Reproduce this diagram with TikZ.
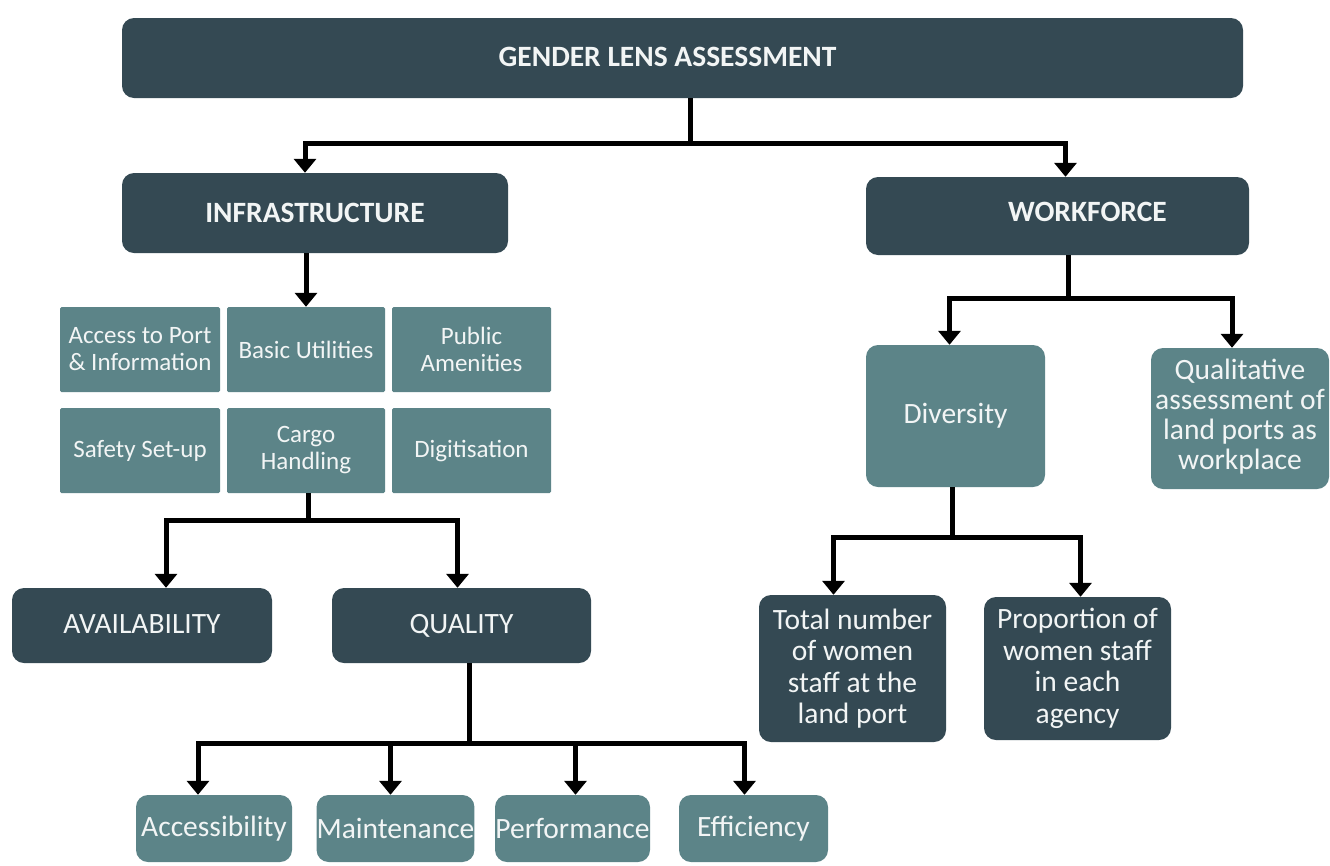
\documentclass[tikz,border=0pt]{standalone}
\usepackage{fontspec}
\setmainfont{Carlito}
\usetikzlibrary{arrows.meta}
\definecolor{darkbox}{HTML}{344953}
\definecolor{lightbox}{HTML}{5C8488}
\definecolor{boxtext}{HTML}{F2F5F5}
\tikzset{
  box/.style={rectangle, inner sep=0pt, text=boxtext, align=center},
  dbox/.style={box, fill=darkbox, rounded corners=12pt},
  lbox/.style={box, fill=lightbox, rounded corners=12pt},
  gbox/.style={box, fill=lightbox, rounded corners=1.5pt, minimum height=85pt,
     font=\fontsize{25}{27}\selectfont},
  conn/.style={line width=5pt, black},
  arr/.style={conn, -{Triangle[width=22pt,length=14pt]}},
  big/.style={font=\fontsize{29.5}{30}\selectfont},
  bigb/.style={font=\fontsize{29.5}{30}\selectfont\bfseries},
}
\begin{document}
\begin{tikzpicture}[x=1pt,y=-1pt]
\useasboundingbox[fill=white] (0,0) rectangle (1330,865);
% top
\node[dbox, bigb, minimum width=1121pt, minimum height=80pt] (title) at (682.5,58) {\hspace*{-30pt}\raisebox{2pt}{GENDER LENS ASSESSMENT}};
\node[dbox, bigb, minimum width=386pt, minimum height=80pt] (infra) at (315,213) {INFRASTRUCTURE};
\node[dbox, bigb, minimum width=383pt, minimum height=78pt] (work) at (1057.5,216) {\hspace*{60pt}\raisebox{9pt}{WORKFORCE}};
% grid
\node[gbox, minimum width=160pt] (acc) at (140,349.5) {Access to Port\\\& Information};
\node[gbox, minimum width=158pt] (bu) at (306,349.5) {Basic Utilities};
\node[gbox, minimum width=159pt] (pa) at (471.5,349.5) {Public\\Amenities};
\node[gbox, minimum width=160pt] (ss) at (140,450.5) {Safety Set-up};
\node[gbox, minimum width=158pt] (ch) at (306,450.5) {Cargo\\Handling};
\node[gbox, minimum width=159pt] (dg) at (471.5,450.5) {Digitisation};
% availability / quality
\node[dbox, big, minimum width=260pt, minimum height=75pt] (avail) at (142,625.5) {\raisebox{3pt}{AVAILABILITY}};
\node[dbox, big, minimum width=259pt, minimum height=75pt] (qual) at (461.5,625.5) {\raisebox{3pt}{QUALITY}};
% bottom row
\node[lbox, big, minimum width=156pt, minimum height=67pt] (access) at (214,828.5) {Accessibility};
\node[lbox, big, minimum width=155pt, minimum height=67pt] (maint) at (395.5,828.5) {Maintenance};
\node[lbox, big, minimum width=155pt, minimum height=67pt] (perf) at (572.5,828.5) {Performance};
\node[lbox, big, minimum width=149pt, minimum height=67pt] (eff) at (753.5,828.5) {Efficiency};
% workforce side
\node[lbox, big, minimum width=179pt, minimum height=142pt] (div) at (955.5,416) {Diversity};
\node[lbox, big, minimum width=178pt, minimum height=141pt] (qa) at (1240,418.5) {\raisebox{6pt}{\begin{tabular}{@{}c@{}}Qualitative\\assessment of\\land ports as\\workplace\end{tabular}}};
\node[dbox, font=\fontsize{29.5}{31.5}\selectfont, minimum width=187pt, minimum height=147pt] (total) at (852.5,668.5) {Total number\\of women\\staff at the\\land port};
\node[dbox, font=\fontsize{29.5}{31.5}\selectfont, minimum width=187pt, minimum height=143pt] (prop) at (1077.5,668.5) {Proportion of\\women staff\\in each\\agency};
% junctions
\coordinate (j1) at (690,143);
\coordinate (j2) at (308,520);
\coordinate (j3) at (469,743);
\coordinate (j4) at (1068,298);
\coordinate (j5) at (952,537);
% connectors
\draw[conn] (title.south -| j1) -- (j1);
\draw[arr] (j1) -| ([xshift=-10pt]infra.north);
\draw[arr] (j1) -| ([xshift=8pt]work.north);
\draw[arr] (infra.south -| bu.north) -- (bu.north);
\draw[conn] (ch.south -| j2) -- (j2);
\draw[arr] (j2) -| ([xshift=24pt]avail.north);
\draw[arr] (j2) -| ([xshift=-4pt]qual.north);
\draw[conn] (qual.south -| j3) -- (j3);
\draw[arr] (j3) -| ([xshift=-16pt]access.north);
\draw[arr] (j3) -| ([xshift=-5pt]maint.north);
\draw[arr] (j3) -| ([xshift=3pt]perf.north);
\draw[arr] (j3) -| ([xshift=-9pt]eff.north);
\draw[conn] (work.south -| j4) -- (j4);
\draw[arr] (j4) -| ([xshift=-6pt]div.north);
\draw[arr] (j4) -| ([xshift=-8pt]qa.north);
\draw[conn] (div.south -| j5) -- (j5);
\draw[arr] (j5) -| ([xshift=-19pt]total.north);
\draw[arr] (j5) -| ([xshift=3pt]prop.north);
\end{tikzpicture}
\end{document}
